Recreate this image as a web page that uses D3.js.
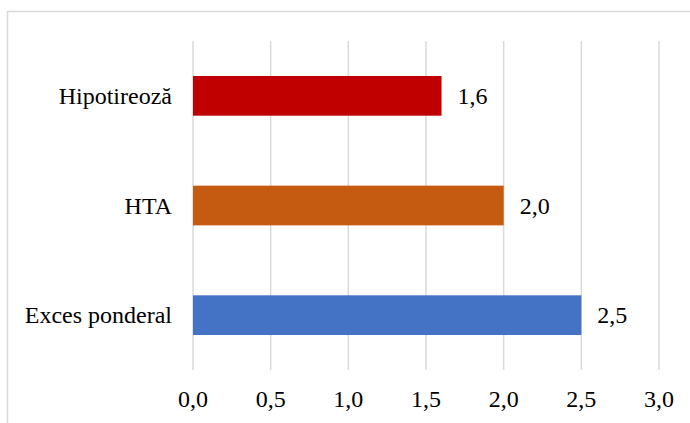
<!DOCTYPE html>
<html>
<head>
<meta charset="utf-8">
<script src="https://cdn.jsdelivr.net/npm/d3@7/dist/d3.min.js"></script>
<style>
  html, body { margin: 0; padding: 0; background: #fff; }
  svg { display: block; }
  text { font-family: "Liberation Serif", "Times New Roman", serif; fill: #000; }
</style>
</head>
<body>
<svg id="chart" width="690" height="423"></svg>
<script>
const categories = ["Hipotireoză", "HTA", "Exces ponderal"];
const values = [1.6, 2.0, 2.5];
const colors = ["#C00000", "#C55A11", "#4472C4"];
const tickValues = [0, 0.5, 1.0, 1.5, 2.0, 2.5, 3.0];
const tickLabels = ["0,0", "0,5", "1,0", "1,5", "2,0", "2,5", "3,0"];

const svg = d3.select("#chart");
const fontSize = 24;

// chart border
svg.append("rect")
  .attr("x", 7.5).attr("y", 11.5)
  .attr("width", 720).attr("height", 500)
  .attr("fill", "none")
  .attr("stroke", "#d9d9d9")
  .attr("stroke-width", 1.5);

const x = d3.scaleLinear().domain([0, 3]).range([193, 659]);
const y = d3.scaleBand().domain(categories).range([41, 370])
  .paddingInner(0.638).paddingOuter(0.319);

// gridlines
svg.append("g").selectAll("line").data(tickValues).join("line")
  .attr("x1", d => x(d)).attr("x2", d => x(d))
  .attr("y1", 41).attr("y2", 370)
  .attr("stroke", "#d9d9d9").attr("stroke-width", 1.5);

// x tick labels
svg.append("g").selectAll("text").data(tickValues).join("text")
  .attr("x", d => x(d)).attr("y", 407)
  .attr("text-anchor", "middle")
  .attr("font-size", fontSize)
  .text((d, i) => tickLabels[i]);

// bars
svg.append("g").selectAll("rect").data(categories).join("rect")
  .attr("x", x(0))
  .attr("y", d => y(d))
  .attr("width", (d, i) => x(values[i]) - x(0))
  .attr("height", y.bandwidth())
  .attr("fill", (d, i) => colors[i]);

// category labels
svg.append("g").selectAll("text").data(categories).join("text")
  .attr("x", x(0) - 21)
  .attr("y", d => y(d) + y.bandwidth() / 2 + 8)
  .attr("text-anchor", "end")
  .attr("font-size", fontSize)
  .text(d => d);

// value labels
svg.append("g").selectAll("text").data(categories).join("text")
  .attr("x", (d, i) => x(values[i]) + 16)
  .attr("y", d => y(d) + y.bandwidth() / 2 + 8)
  .attr("text-anchor", "start")
  .attr("font-size", fontSize)
  .text((d, i) => values[i].toFixed(1).replace(".", ","));
</script>
</body>
</html>
